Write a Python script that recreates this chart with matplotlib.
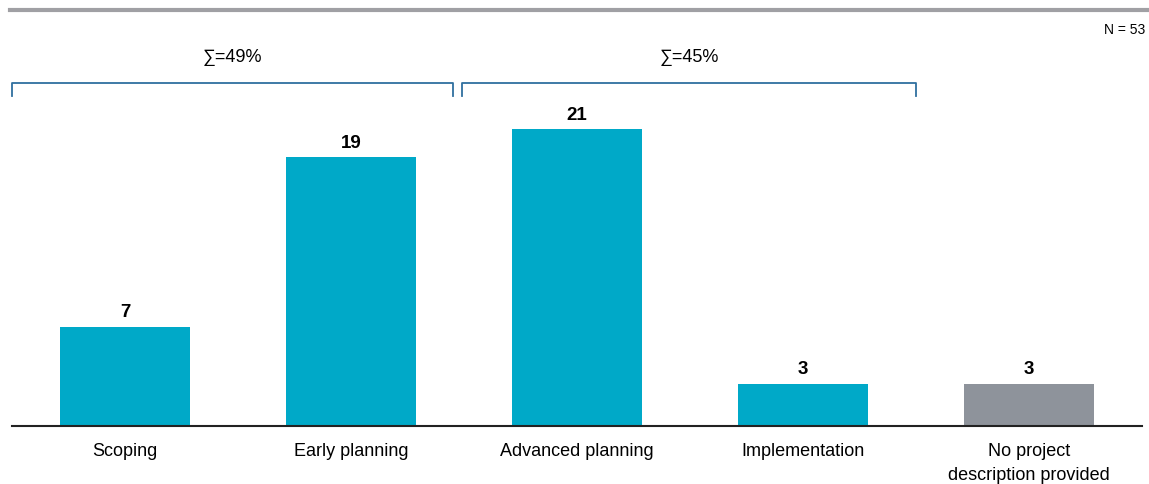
import matplotlib
matplotlib.use("Agg")
import matplotlib.pyplot as plt
from matplotlib.lines import Line2D

plt.rcParams['font.family'] = ['Liberation Sans', 'DejaVu Sans']

categories = ["Scoping", "Early planning", "Advanced planning", "Implementation",
              "No project\ndescription provided"]
values = [7, 19, 21, 3, 3]
colors = ["#00a9c8", "#00a9c8", "#00a9c8", "#00a9c8", "#8e939b"]
groups = [("∑=49%", 0, 1), ("∑=45%", 2, 3)]
n_label = "N = 53"

fig = plt.figure(figsize=(11.49, 4.84), dpi=100)
ax = fig.add_axes([12/1149, 58/484, 1130/1149, 426/484])
x = list(range(len(categories)))
ax.bar(x, values, width=0.575, color=colors, zorder=2)
ax.set_xlim(-0.5, len(categories) - 0.5)
ax.set_ylim(0, 426/14.14)

for xi, v in zip(x, values):
    ax.annotate(str(v), (xi, v), xytext=(0, 4), textcoords="offset points",
                ha="center", va="bottom", fontsize=13.5, fontweight="bold", color="black")

for s in ["top", "right", "left"]:
    ax.spines[s].set_visible(False)
ax.spines["bottom"].set_linewidth(1.5)
ax.spines["bottom"].set_color("#222222")
ax.set_yticks([])
ax.set_xticks(x)
ax.set_xticklabels(categories, fontsize=13, linespacing=1.6)
ax.tick_params(axis="x", length=0, pad=12)

# group brackets
ytop = (426 - 83) / 14.14
ybot = (426 - 96) / 14.14
bracket_color = "#2f6f9f"
for label, i0, i1 in groups:
    left = i0 - 0.5 if i0 == 0 else i0 - 0.51
    right = i1 + 0.45 if i0 == 0 else i1 + 0.5
    xs = [left, left, right, right]
    ys = [ybot, ytop, ytop, ybot]
    ax.add_line(Line2D(xs, ys, color=bracket_color, lw=1.3, clip_on=False))
    ax.text((left + right) / 2, (426 - 57) / 14.14, label, ha="center", va="center",
            fontsize=13, color="black")

# N label
fig.text(1145/1149, 1 - 30/484, n_label, ha="right", va="center", fontsize=10)

# top grey rule
fig.add_artist(Line2D([10/1149, 1.0], [1 - 10/484, 1 - 10/484], color="#a0a0a4", lw=3))

fig.savefig("out.png", dpi=100)
